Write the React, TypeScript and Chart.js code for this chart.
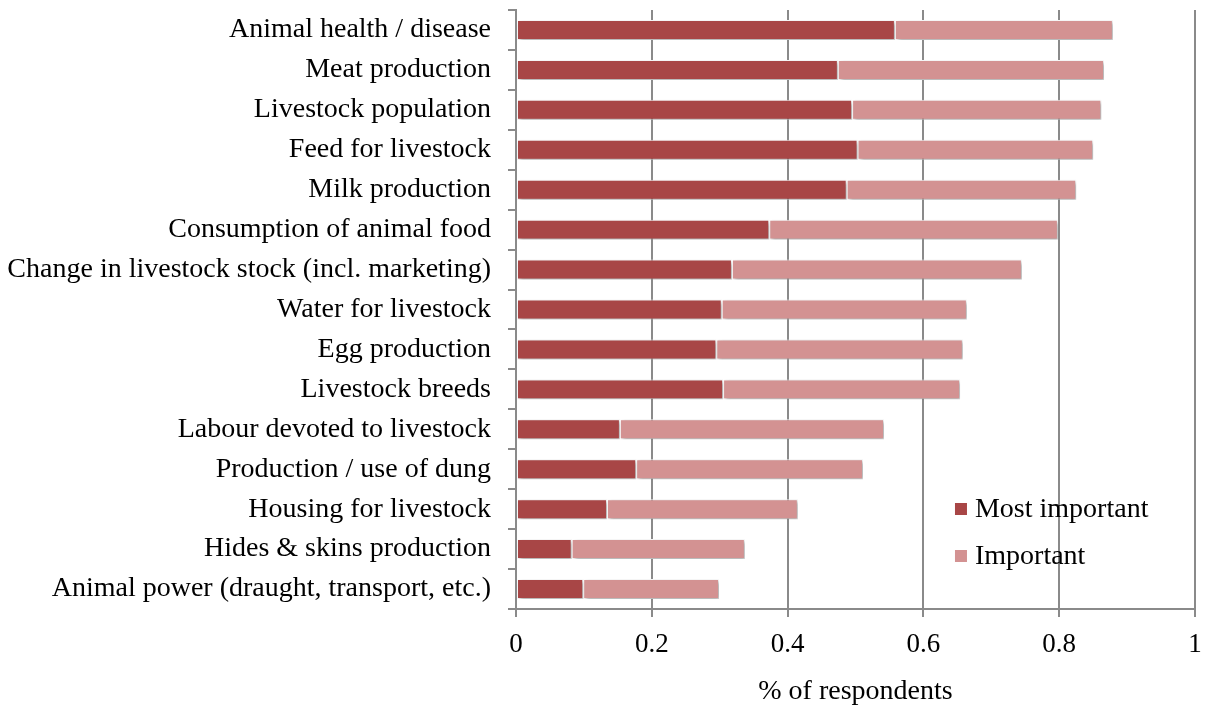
import React, { useEffect, useRef } from "react";
import { Chart, registerables } from "chart.js";

Chart.register(...registerables);

const categories = [
  "Animal health / disease",
  "Meat production",
  "Livestock population",
  "Feed for livestock",
  "Milk production",
  "Consumption of animal food",
  "Change in livestock stock (incl. marketing)",
  "Water for livestock",
  "Egg production",
  "Livestock breeds",
  "Labour devoted to livestock",
  "Production / use of dung",
  "Housing for livestock",
  "Hides & skins production",
  "Animal power (draught, transport, etc.)",
];

const mostImportant = [0.558, 0.474, 0.495, 0.503, 0.487, 0.373, 0.318, 0.303, 0.295, 0.305, 0.153, 0.177, 0.134, 0.082, 0.099];
const important = [0.321, 0.392, 0.367, 0.347, 0.338, 0.425, 0.427, 0.361, 0.363, 0.349, 0.389, 0.334, 0.281, 0.255, 0.200];

const xTicks = [0, 0.2, 0.4, 0.6, 0.8, 1];
const xTitle = "% of respondents";

const FONT = "'Liberation Serif', 'DejaVu Serif', serif";
const FS = 28;
const GRID = "#8a8a8a";

const shadowPlugin = {
  id: "barShadow",
  beforeDatasetsDraw(chart: any) {
    const ctx = chart.ctx;
    ctx.save();
    ctx.shadowColor = "rgba(0,0,0,0.35)";
    ctx.shadowBlur = 4;
    ctx.shadowOffsetX = 2;
    ctx.shadowOffsetY = 2;
  },
  afterDatasetsDraw(chart: any) {
    chart.ctx.restore();
  },
};

const legendPlugin = {
  id: "insideLegend",
  afterDraw(chart: any) {
    const ctx = chart.ctx;
    const area = chart.chartArea;
    const x0 = area.left + (area.right - area.left) * 0.6465;
    const ys = [509, 556];
    ctx.save();
    ctx.font = `${FS}px ${FONT}`;
    ctx.textBaseline = "middle";
    ctx.textAlign = "left";
    chart.data.datasets.forEach((ds: any, i: number) => {
      const y = ys[i];
      ctx.fillStyle = ds.backgroundColor;
      ctx.fillRect(x0, y - 6, 12, 12);
      ctx.fillStyle = "#000";
      ctx.fillText(ds.label, x0 + 20, y + 1);
    });
    ctx.restore();
  },
};

export default function App() {
  const ref = useRef<HTMLCanvasElement>(null);
  useEffect(() => {
    if (!ref.current) return;
    const chart = new Chart(ref.current, {
      type: "bar",
      data: {
        labels: categories,
        datasets: [
          {
            label: "Most important",
            data: mostImportant,
            backgroundColor: "#a84646",
            borderColor: "#ffffff",
            borderWidth: 1,
            borderSkipped: false,
            barPercentage: 0.5,
            categoryPercentage: 1,
          },
          {
            label: "Important",
            data: important,
            backgroundColor: "#d39292",
            borderColor: "#ffffff",
            borderWidth: 1,
            borderSkipped: false,
            barPercentage: 0.5,
            categoryPercentage: 1,
          },
        ],
      },
      options: {
        indexAxis: "y",
        responsive: false,
        animation: false,
        layout: { padding: { top: 10, right: 10, left: 0, bottom: 0 } },
        plugins: {
          legend: { display: false },
          tooltip: { enabled: false },
        },
        scales: {
          x: {
            stacked: true,
            min: 0,
            max: 1,
            afterBuildTicks: (s: any) => {
              s.ticks = xTicks.map((v) => ({ value: v }));
            },
            afterFit: (s: any) => {
              s.height = 96;
              s.paddingLeft = 0;
              s.paddingRight = 0;
            },
            ticks: {
              color: "#000",
              font: { family: FONT, size: 27 },
              padding: 12,
              callback: (v: any) => String(v),
            },
            grid: {
              color: GRID,
              lineWidth: 2,
              drawTicks: true,
              tickLength: 8,
              tickColor: GRID,
            },
            border: { display: true, color: GRID, width: 2 },
            title: {
              display: true,
              text: xTitle,
              color: "#000",
              font: { family: FONT, size: FS },
              padding: { top: 8, bottom: -3 },
            },
          },
          y: {
            stacked: true,
            afterFit: (s: any) => {
              s.width = 516;
              s.paddingTop = 0;
              s.paddingBottom = 0;
            },
            ticks: {
              color: "#000",
              font: { family: FONT, size: FS },
              padding: 17,
              autoSkip: false,
            },
            grid: {
              offset: true,
              drawOnChartArea: false,
              drawTicks: true,
              tickLength: 8,
              color: GRID,
              lineWidth: 2,
            },
            border: { display: true, color: GRID, width: 2 },
          },
        },
      },
      plugins: [shadowPlugin, legendPlugin],
    } as any);
    return () => chart.destroy();
  }, []);
  return (
    <div style={{ position: "fixed", left: 0, top: 0, width: 1205, height: 705, background: "#fff" }}>
      <canvas ref={ref} width={1205} height={705} style={{ display: "block" }} />
    </div>
  );
}
